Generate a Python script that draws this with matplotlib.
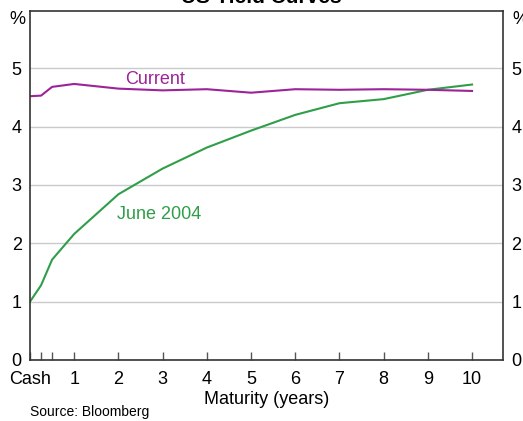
# US yield curves - current vs June 2004
import numpy as np
import matplotlib.pyplot as plt

plt.rcParams['font.family'] = ['Liberation Sans', 'DejaVu Sans']

# Data ........................................................................
maturity = [0, 0.25, 0.5, 1, 2, 3, 4, 5, 6, 7, 8, 9, 10]
current = [4.52, 4.53, 4.68, 4.73, 4.65, 4.62, 4.64, 4.58, 4.64, 4.63, 4.64, 4.63, 4.61]
june_2004 = [1.0, 1.28, 1.72, 2.16, 2.84, 3.28, 3.64, 3.93, 4.20, 4.40, 4.47, 4.63, 4.72]
x_ticks = [0, 1, 2, 3, 4, 5, 6, 7, 8, 9, 10]
x_labels = ['Cash', '1', '2', '3', '4', '5', '6', '7', '8', '9', '10']
y_ticks = [0, 1, 2, 3, 4, 5]

purple = '#9c2399'
green = '#2f9e48'

# Plot ........................................................................
fig = plt.figure(figsize=(5.23, 4.21), dpi=100)
ax = fig.add_axes([30 / 523, 1 - 360 / 421, 473 / 523, 349 / 421])

ax.plot(maturity, june_2004, color=green, linewidth=1.5)
ax.plot(maturity, current, color=purple, linewidth=1.5)

ax.set_xlim(0, 10.7)
ax.set_ylim(0, 5.98)
ax.set_yticks(y_ticks)
ax.set_xticks(x_ticks)
ax.set_xticklabels(x_labels)
ax.set_xticks([0.25, 0.5], minor=True)
ax.grid(axis='y', color='#c8cacc', linewidth=1)
ax.set_axisbelow(True)

ax.tick_params(axis='x', which='both', direction='in', length=6, width=1,
               color='#555555', labelsize=13, pad=8)
ax.tick_params(axis='y', length=0, labelsize=13, pad=6,
               labelleft=True, labelright=True)
for s in ax.spines.values():
    s.set_color('#333333')
    s.set_linewidth(1.2)

ax.set_xlabel('Maturity (years)', fontsize=13, labelpad=2)
ax.text(2.84, 4.8, 'Current', color=purple, fontsize=13, ha='center', va='center')
ax.text(2.93, 2.5, 'June 2004', color=green, fontsize=13, ha='center', va='center')

fig.text(17 / 523, 1 - 19 / 421, '%', fontsize=13, ha='center', va='center')
fig.text(520 / 523, 1 - 19 / 421, '%', fontsize=13, ha='center', va='center')
fig.text(0.5, 1 - 3 / 421, 'US Yield Curves', fontsize=15, fontweight='bold',
         ha='center', va='baseline')
fig.text(30 / 523, 1 - 412 / 421, 'Source: Bloomberg', fontsize=10,
         ha='left', va='center')

fig.savefig('out.png', dpi=100)
